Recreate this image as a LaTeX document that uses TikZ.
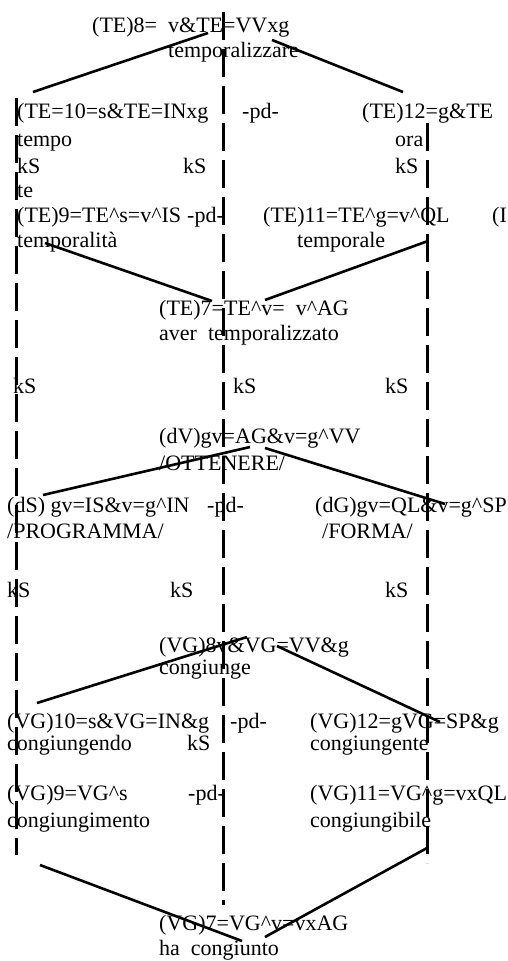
\documentclass[tikz,border=0pt]{standalone}
\usepackage{fontspec}
\setmainfont{Liberation Serif}
\usepackage{tikz}

\newcommand{\crt}{\textasciicircum{}}

\begin{document}
\begin{tikzpicture}[x=1pt, y=-1pt,
  lbl/.style={anchor=base west, inner sep=0pt, font=\fontsize{22}{25}\selectfont},
  lnk/.style={line width=2.6pt},
  col/.style={line width=3pt, dash pattern=on 28pt off 9pt}]
\useasboundingbox (0,0) rectangle (507,961);
% columns
\draw[col] (16,98) -- (16,855);
\draw[col] (223,12) -- (223,905);
\draw[col] (427,123) -- (427,863);
% TE block
\node[lbl] (te8a) at (92,32) {(TE)8=\ \ v\&TE=VVxg};
\node[lbl] (te8b) at (168,57) {temporalizzare};
\node[lbl] (te10a) at (17,118) {(TE=10=s\&TE=INxg};
\node[lbl] (pdA) at (242,118) {-pd-};
\node[lbl] (te12a) at (362,118) {(TE)12=g\&TE};
\node[lbl] (te10b) at (17,146) {tempo};
\node[lbl] (te12b) at (395,146) {ora};
\node[lbl] (ksA1) at (17,173) {kS};
\node[lbl] (ksA2) at (183,173) {kS};
\node[lbl] (ksA3) at (395,173) {kS};
\node[lbl] (te10c) at (17,197) {te};
\node[lbl] (te9a) at (17,222) {(TE)9=TE\crt s=v\crt IS};
\node[lbl] (pdB) at (187,222) {-pd-};
\node[lbl] (te11a) at (263,222) {(TE)11=TE\crt g=v\crt QL};
\node[lbl] (te11x) at (492,222) {(I};
\node[lbl] (te9b) at (17,247) {temporalità};
\node[lbl] (te11b) at (297,247) {temporale};
\node[lbl] (te7a) at (159,315) {(TE)7=TE\crt v=\ \ v\crt AG};
\node[lbl] (te7b) at (159,340) {aver\ \ temporalizzato};
\node[lbl] (ksB1) at (13,393) {kS};
\node[lbl] (ksB2) at (233,393) {kS};
\node[lbl] (ksB3) at (385,393) {kS};
% d block
\node[lbl] (dva) at (159,443) {(dV)gv=AG\&v=g\crt VV};
\node[lbl] (dvb) at (159,470) {/OTTENERE/};
\node[lbl] (dsa) at (7,512) {(dS) gv=IS\&v=g\crt IN};
\node[lbl] (pdC) at (207,512) {-pd-};
\node[lbl] (dga) at (315,512) {(dG)gv=QL\&v=g\crt SP};
\node[lbl] (dsb) at (7,538) {/PROGRAMMA/};
\node[lbl] (dgb) at (322,538) {/FORMA/};
\node[lbl] (ksC1) at (7,597) {kS};
\node[lbl] (ksC2) at (170,597) {kS};
\node[lbl] (ksC3) at (385,597) {kS};
% VG block
\node[lbl] (vg8a) at (159,652) {(VG)8v\&VG=VV\&g};
\node[lbl] (vg8b) at (159,674) {congiunge};
\node[lbl] (vg10a) at (7,728) {(VG)10=s\&VG=IN\&g};
\node[lbl] (pdD) at (230,728) {-pd-};
\node[lbl] (vg12a) at (310,728) {(VG)12=gVG=SP\&g};
\node[lbl] (vg10b) at (7,750) {congiungendo};
\node[lbl] (ksD) at (187,750) {kS};
\node[lbl] (vg12b) at (310,750) {congiungente};
\node[lbl] (vg9a) at (7,800) {(VG)9=VG\crt s};
\node[lbl] (pdE) at (188,800) {-pd-};
\node[lbl] (vg11a) at (310,800) {(VG)11=VG\crt g=vxQL};
\node[lbl] (vg9b) at (7,827) {congiungimento};
\node[lbl] (vg11b) at (310,827) {congiungibile};
\node[lbl] (vg7a) at (159,930) {(VG)7=VG\crt v=vxAG};
\node[lbl] (vg7b) at (159,955) {ha\ \ congiunto};
% links
\draw[lnk] ([shift={(116,1)}]te8a.base west) -- ([shift={(16,-26)}]te10a.base west);
\draw[lnk] ([shift={(180,8)}]te8a.base west) -- ([shift={(41,-26)}]te12a.base west);
\draw[lnk] ([shift={(28,-4)}]te9b.base west) -- ([shift={(53,-14)}]te7a.base west);
\draw[lnk] ([shift={(131,-6)}]te11b.base west) -- ([shift={(106,-15)}]te7a.base west);
\draw[lnk] ([shift={(91,4)}]dva.base west) -- ([shift={(36,-17)}]dsa.base west);
\draw[lnk] ([shift={(106,5)}]dva.base west) -- ([shift={(130,-8)}]dga.base west);
\draw[lnk] ([shift={(88,-15)}]vg8a.base west) -- ([shift={(30,-25)}]vg10a.base west);
\draw[lnk] ([shift={(118,-6)}]vg8a.base west) -- ([shift={(130,-6)}]vg12a.base west);
\draw[lnk] ([shift={(33,38)}]vg9b.base west) -- ([shift={(83,11)}]vg7a.base west);
\draw[lnk] ([shift={(117,21)}]vg11b.base west) -- ([shift={(106,7)}]vg7a.base west);
\end{tikzpicture}
\end{document}
